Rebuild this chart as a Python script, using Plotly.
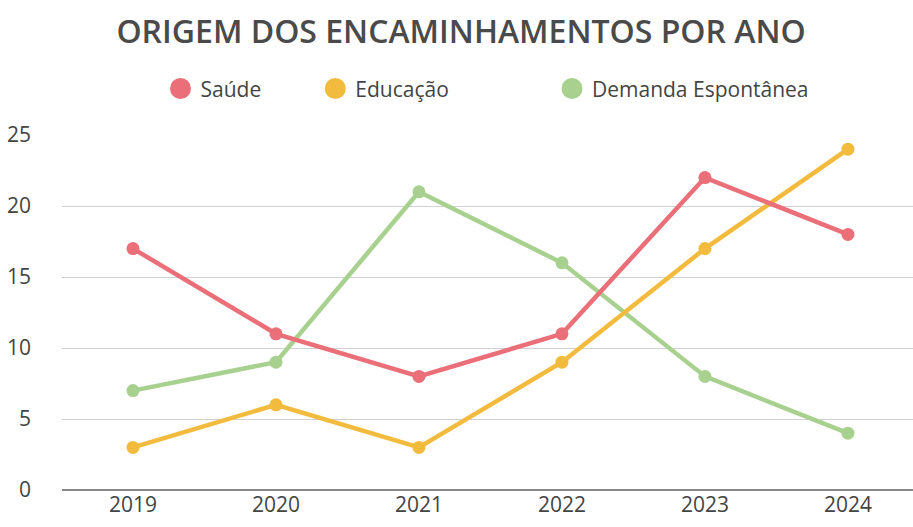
import plotly.graph_objects as go

anos = ["2019", "2020", "2021", "2022", "2023", "2024"]
saude = [17, 11, 8, 11, 22, 18]
educacao = [3, 6, 3, 9, 17, 24]
demanda = [7, 9, 21, 16, 8, 4]
series_names = ["Saúde", "Educação", "Demanda Espontânea"]
colors = ["#ea6f78", "#f3bb3e", "#a8d18f"]
legend_pad = ["&nbsp;" * 9, "&nbsp;" * 18, ""]

x = list(range(len(anos)))
fig = go.Figure()
for name, vals, col in [(series_names[2], demanda, colors[2]),
                        (series_names[1], educacao, colors[1]),
                        (series_names[0], saude, colors[0])]:
    fig.add_trace(go.Scatter(x=x, y=vals, mode="lines+markers", name=name,
                             line=dict(color=col, width=4.5),
                             marker=dict(color=col, size=13),
                             showlegend=False, hoverinfo="x+y"))
for name, col, pad in zip(series_names, colors, legend_pad):
    fig.add_trace(go.Scatter(x=[None], y=[None], mode="markers", name=name + pad,
                             marker=dict(color=col, size=16, line=dict(color=col, width=5)),
                             showlegend=True))

fig.update_layout(
    width=913, height=527,
    margin=dict(l=62, r=0, t=135, b=37),
    paper_bgcolor="white", plot_bgcolor="white",
    title=dict(text="ORIGEM DOS ENCAMINHAMENTOS POR ANO",
               x=0.505, xanchor="center", y=0.939, yanchor="middle",
               font=dict(family="Open Sans", size=32, color="#4a4a4a", weight=600)),
    legend=dict(orientation="h", x=0.5, xanchor="center", y=1.13, yanchor="middle",
                font=dict(family="Open Sans", size=21, color="#444"),
                itemsizing="trace", itemwidth=30, tracegroupgap=0),
    font=dict(family="Open Sans", size=20, color="#444"),
)
fig.update_xaxes(tickvals=x, ticktext=anos, range=[-0.4965, 5.455],
                 showgrid=False, zeroline=False, showline=False,
                 tickfont=dict(family="Open Sans", size=21, color="#444"), ticks="")
fig.update_yaxes(range=[0, 25], dtick=5, showgrid=True, gridcolor="#d0d0d0", gridwidth=1,
                 zeroline=True, zerolinecolor="#888", zerolinewidth=2,
                 showline=False, ticks="", ticklabelstandoff=30,
                 tickfont=dict(family="Open Sans", size=21, color="#444"))
fig.write_html("out.html")
